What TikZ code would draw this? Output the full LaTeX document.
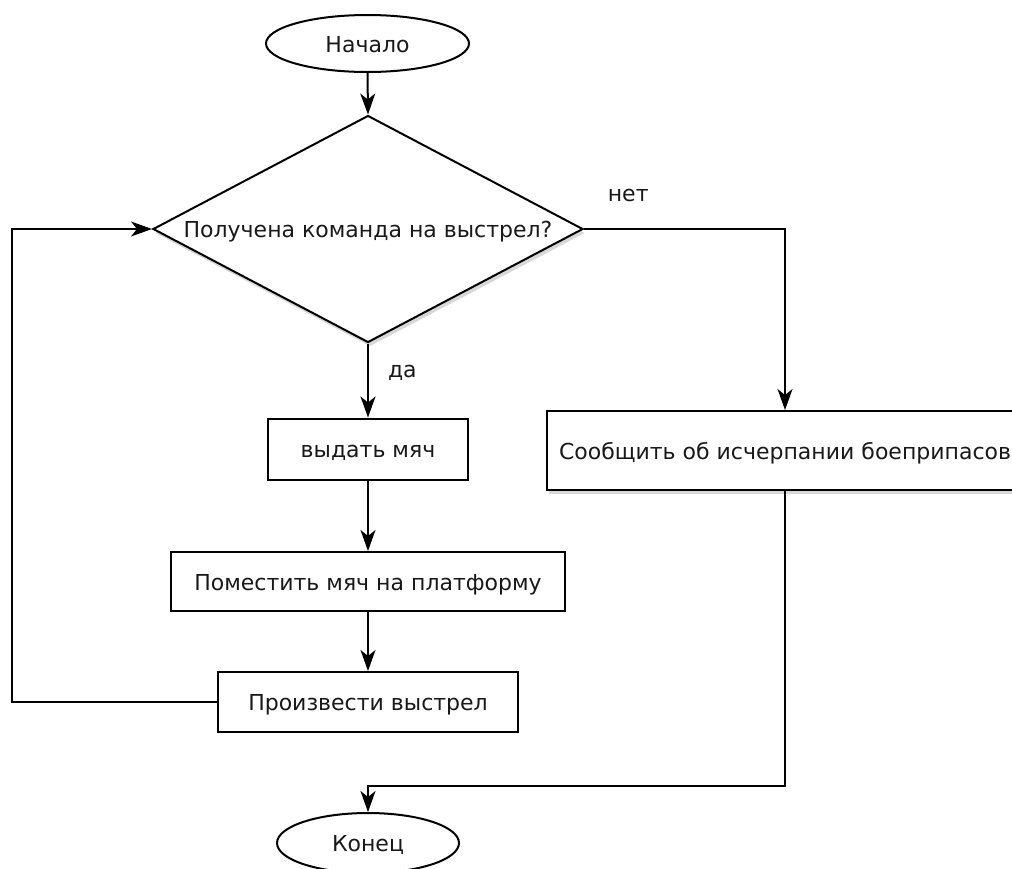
\documentclass[tikz,border=0pt]{standalone}
\usepackage{fontspec}
\setmainfont{DejaVu Sans}
\usetikzlibrary{shapes.geometric,arrows.meta,shadows}
\begin{document}
\begin{tikzpicture}[x=1pt,y=-1pt,
  every node/.style={font=\fontsize{22}{26}\selectfont, text=black!90},
  line/.style={draw=black, line width=2pt},
  arr/.style={line, -{Stealth[length=21pt,width=15pt,inset=6pt]}},
  txt/.style={text height=19pt, text depth=2pt},
  procbox/.style={txt, draw=black, line width=2pt, rectangle, inner sep=0pt, fill=white},
  term/.style={txt, draw=black, line width=2pt, ellipse, inner sep=0pt, fill=white},
  decision/.style={txt, draw=black, line width=2pt, diamond, aspect=1.9, inner sep=0pt, fill=white},
  softshadow/.style={drop shadow={opacity=0.3, shadow xshift=2pt, shadow yshift=-4pt}},
  lbl/.style={inner sep=0pt}
]
\path[use as bounding box, clip] (0,0) rectangle (1012,868);
\fill[white] (0,0) rectangle (1012,868);

\node[term, minimum width=203pt, minimum height=57pt] (start) at (367.5,43.5) {Начало};
\node[decision, softshadow, minimum width=430pt, minimum height=227pt] (dec) at (368,229) {Получена команда на выстрел?};
\node[procbox, minimum width=200pt, minimum height=61pt] (give) at (368,449) {выдать мяч};
\node[procbox, minimum width=394pt, minimum height=59pt] (place) at (368,581.5) {Поместить мяч на платформу};
\node[procbox, minimum width=300pt, minimum height=60pt] (shoot) at (368,702) {Произвести выстрел};
\node[procbox, softshadow, minimum width=476pt, minimum height=79pt] (report) at (785,450.5) {Сообщить об исчерпании боеприпасов};
\node[term, minimum width=182pt, minimum height=60pt] (endn) at (368,843) {Конец};

\draw[arr] (start.south) -- (dec.north);
\draw[arr] (dec.south) -- node[lbl, pos=0.39, anchor=west, xshift=19pt] {да} (give.north);
\draw[arr] (give.south) -- (place.north);
\draw[arr] (place.south) -- (shoot.north);
\draw[arr] (dec.east) -| node[lbl, pos=0.11, yshift=34pt] {нет} (report.north);
\draw[arr] (shoot.west) -- ++(-205,0) |- (dec.west);
\draw[arr] (report.south) -- ++(0,295) -| (endn.north);
\end{tikzpicture}
\end{document}
